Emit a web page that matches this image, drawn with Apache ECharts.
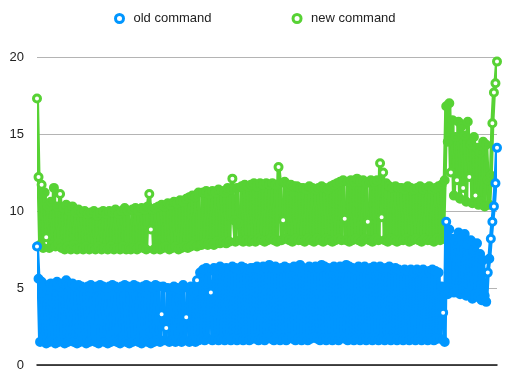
<!DOCTYPE html>
<html><head><meta charset="utf-8">
<script src="https://cdn.jsdelivr.net/npm/echarts@6/dist/echarts.min.js"></script>
<style>html,body{margin:0;padding:0;background:#fff}#c{width:520px;height:382px}</style>
</head><body><div id="c"></div>
<script>
const seriesNames = ['old command', 'new command'];
const yTicks = [0, 5, 10, 15, 20];
const oldCommand = [
  7.7, 5.6, 1.5, 5.4, 1.6, 5.2, 1.4, 4.9,
  1.5, 5.3, 1.6, 5.2, 1.4, 5.4, 1.5, 5.1, 1.6, 5.3, 1.4, 5.5, 1.5, 5.2, 1.6, 5.3, 1.5, 5.1, 1.4, 5.2,
  1.5, 5.1, 1.6, 5.0, 1.4, 5.1, 1.5, 5.2, 1.6, 5.0, 1.5, 5.1, 1.4, 5.2, 1.6, 5.1, 1.5, 5.0, 1.4, 5.1,
  1.5, 5.2, 1.6, 5.1, 1.5, 5.0, 1.4, 5.1, 1.6, 5.2, 1.5, 5.1, 1.4, 5.0, 1.5, 5.2, 1.6, 5.1, 1.5, 5.0,
  1.4, 5.1, 1.6, 5.2, 1.5, 5.1, 1.4, 5.0, 1.5, 5.2, 1.6, 5.1, 1.5,
  3.3, 5.1, 1.6, 2.4, 5.0, 1.5, 4.9, 1.6, 5.1, 1.5, 5.0, 1.6, 4.9, 1.5, 5.2, 1.6, 3.1, 5.0, 1.5, 5.1,
  1.6, 4.7, 1.5, 5.5, 1.6, 6.0,
  1.7, 6.2, 1.6, 6.3, 1.7, 6.1, 4.7, 1.6, 6.3, 1.7, 6.2, 1.6, 6.4, 1.7, 6.2, 1.6, 6.3, 1.7, 6.2, 1.6,
  6.4, 1.7, 6.3, 1.6, 6.2, 1.7, 6.4, 1.6, 6.3, 1.7, 6.2, 1.6, 6.3, 1.7,
  6.3, 1.7, 6.4, 1.6, 6.2, 1.7, 6.4, 1.6, 6.3, 1.8, 6.5, 1.7, 6.3, 1.6, 6.4, 1.7, 6.2, 1.6, 6.3, 1.7,
  6.4, 1.6, 6.3, 1.8, 6.2, 1.7, 6.4, 1.6, 6.3, 1.7, 6.5, 1.6, 6.3, 1.7, 6.2, 1.6, 6.4, 1.7, 6.3, 1.8,
  6.4, 1.7, 6.3, 1.6, 6.5, 1.7, 6.4, 1.6, 6.3, 1.7, 6.2, 1.6, 6.4, 1.7, 6.3, 1.6, 6.4, 1.8, 6.3, 1.7,
  6.5, 1.6, 6.4, 1.7, 6.3, 1.6, 6.2, 1.7, 6.4, 1.6, 6.3, 1.7, 6.4, 1.6, 6.2, 1.7, 6.3, 1.6, 6.4, 1.7,
  6.3, 1.6, 6.4, 1.7, 6.2, 1.6, 6.3, 1.7, 6.4, 1.6, 6.2, 1.7, 6.3, 1.6, 6.2, 1.7, 6.1, 1.6, 6.2, 1.7,
  6.1, 1.6, 6.2, 1.7, 6.0, 1.6, 6.2, 1.7, 6.1, 1.6, 6.2, 1.7, 6.0, 1.6, 6.1, 1.7, 6.2, 1.6, 6.1, 1.7,
  6.0, 1.7,
  5.1, 3.4, 1.5, 9.3, 4.6, 8.8, 5.0, 8.2, 4.7, 7.9,
  4.9, 8.6, 4.6, 8.2, 5.0, 8.5, 4.5, 7.8, 4.7, 8.1, 4.3, 7.5, 4.6, 7.9, 4.4, 7.2, 4.2, 6.8, 4.5,
  4.1, 6.0, 6.9, 8.2, 9.3, 10.3, 11.8, 14.1
];
const newCommand = [
  17.3, 12.2, 7.8, 11.7, 7.6, 11.2, 8.3, 10.3,
  7.6, 10.6, 7.8, 11.5, 7.7, 10.3, 7.9, 11.1,
  7.6, 10.2, 7.5, 10.4, 7.7, 10.0, 7.5, 10.3, 7.8, 9.9, 7.5, 10.1,
  7.6, 9.9, 7.5, 10.0, 7.7, 9.8, 7.5, 9.9, 7.6, 10.0, 7.5, 9.7, 7.7, 9.9, 7.5, 10.0, 7.6, 9.8, 7.5, 10.0,
  7.7, 9.9, 7.5, 10.1, 7.6, 9.8, 7.5, 10.0, 7.7, 10.2, 7.5, 10.0, 7.6,
  7.5, 10.1, 7.6, 10.2, 7.5, 10.0, 7.7, 10.2, 7.6, 10.1, 7.5, 10.3, 11.1, 8.8, 10.1, 7.5, 10.2, 7.6, 10.3, 7.5,
  10.4, 7.6, 10.3, 7.7, 10.5, 7.5, 10.4, 7.6, 10.6, 7.7, 10.5, 7.5, 10.7, 7.6, 10.6, 7.7, 10.8, 7.6, 10.9, 7.7,
  11.0, 7.8, 10.9, 7.7, 11.2, 7.8,
  7.8, 11.2, 7.9, 11.3, 7.8, 11.1, 7.9, 11.3, 7.8, 11.2, 8.0, 11.4, 7.9, 11.3, 8.0, 11.2, 7.9, 11.5, 8.0, 11.4,
  12.1, 9.4, 8.0, 11.5, 9.2, 8.1, 11.6, 8.0, 11.7, 8.1, 11.6, 8.0,
  11.7, 8.1, 11.8, 8.0, 11.6, 8.2, 11.8, 8.1, 11.7, 8.0, 11.8, 8.1, 11.7, 8.2, 11.8, 8.1, 11.7, 8.0, 12.85, 11.8,
  8.1, 9.4, 11.9, 8.2, 11.6, 8.1, 11.7, 8.0, 11.6, 8.2, 11.6, 8.1, 11.5,
  8.1, 11.5, 8.0, 11.4, 8.2, 11.6, 8.1, 11.5, 8.0, 11.4, 8.2, 11.5, 8.1, 11.6, 8.0, 11.5, 8.2, 11.4, 8.1, 11.6,
  8.0, 11.7, 8.1, 11.8, 8.2, 11.9, 8.1, 12.0, 9.5, 8.1, 11.9, 8.0,
  12.0, 8.1, 11.9, 8.2, 12.1, 8.1, 11.9, 8.0, 12.0, 8.2, 11.8, 9.3, 8.1, 12.0, 8.0, 11.9, 8.2, 12.0, 8.1, 13.1,
  9.6, 12.5, 8.1, 11.8, 8.0, 11.6, 8.2, 11.5, 8.1, 11.6, 8.0, 11.5, 8.1,
  11.5, 8.1, 11.4, 8.2, 11.6, 8.0, 11.5, 8.1, 11.4, 8.2, 11.5, 8.1, 11.6, 8.0, 11.4, 8.2, 11.5, 8.1, 11.6, 8.1,
  11.4, 8.0, 11.5, 8.2, 11.6, 8.1, 11.7, 8.2,
  12.0, 16.8, 14.5, 17.0, 12.5, 15.9, 11.0, 14.8,
  12.0, 15.8, 10.8, 15.5, 11.5, 14.9, 10.6, 15.8, 12.2, 14.3, 10.5, 14.8, 11.0, 14.1, 10.4, 13.8, 10.6, 14.5,
  10.3, 14.3, 12.0, 10.4, 12.3,
  15.7, 17.7, 18.3, 19.7
];
const BLUE = '#0096FF', GREEN = '#57D234';
const categories = oldCommand.map((_, i) => i + 1);

function styled(values, color) {
  return values.map((v, i) => {
    let near = 0;
    for (let j = Math.max(0, i - 6); j <= Math.min(values.length - 1, i + 6); j++) {
      if (j !== i && Math.abs(values[j] - v) < 0.35) near++;
    }
    const hollow = near === 0;
    return { value: v, itemStyle: { color: hollow ? '#fff' : color, borderColor: color } };
  });
}

// connecting line: each step drawn as its own stroke through the axis scales
function lineSeries(name, values, color, z) {
  return {
    name: name, type: 'custom', z: z, silent: true, clip: true,
    data: values.map((v, i) => [i, v]),
    encode: { x: 0, y: 1 },
    renderItem: function (params, api) {
      const i = params.dataIndex;
      const j = i > 0 ? i - 1 : 0;
      const p1 = api.coord([j, values[j]]);
      const p2 = api.coord([i, values[i]]);
      return {
        type: 'line',
        shape: { x1: p1[0], y1: p1[1], x2: p2[0], y2: p2[1] },
        style: { stroke: color, lineWidth: 4, lineCap: 'round', fill: null }
      };
    }
  };
}
function markSeries(name, values, color, z) {
  return {
    name: name, type: 'scatter', z: z, data: styled(values, color),
    symbol: 'circle', symbolSize: 7,
    itemStyle: { color: color, borderColor: color, borderWidth: 3, opacity: 1 },
    emphasis: { disabled: true }, silent: true
  };
}

const chart = echarts.init(document.getElementById('c'), null, { renderer: 'canvas' });
chart.setOption({
  animation: false,
  backgroundColor: '#fff',
  textStyle: { fontFamily: 'Liberation Sans, Arial, sans-serif' },
  legend: {
    top: 7, left: 109, itemGap: 80, itemWidth: 8, itemHeight: 8,
    textStyle: { fontSize: 13, color: '#222', padding: [0, 0, 0, 5] },
    data: [
      { name: seriesNames[0], icon: 'circle', itemStyle: { color: '#fff', borderColor: BLUE, borderWidth: 3 } },
      { name: seriesNames[1], icon: 'circle', itemStyle: { color: '#fff', borderColor: GREEN, borderWidth: 3 } }
    ]
  },
  grid: { left: 37, right: 23, top: 57, bottom: 17, containLabel: false },
  xAxis: {
    type: 'category', data: categories, boundaryGap: false,
    axisLine: { lineStyle: { color: '#111', width: 1.5 } },
    axisTick: { show: false }, axisLabel: { show: false }, splitLine: { show: false }
  },
  yAxis: {
    type: 'value', min: yTicks[0], max: yTicks[yTicks.length - 1], interval: 5,
    axisLine: { show: false }, axisTick: { show: false },
    axisLabel: { fontSize: 13, color: '#222', margin: 13 },
    splitLine: { lineStyle: { color: '#b4b4b4', width: 1 } }
  },
  series: [
    lineSeries(seriesNames[1], newCommand, GREEN, 2),
    markSeries(seriesNames[1], newCommand, GREEN, 2),
    lineSeries(seriesNames[0], oldCommand, BLUE, 3),
    markSeries(seriesNames[0], oldCommand, BLUE, 3)
  ]
});
</script>
</body></html>
